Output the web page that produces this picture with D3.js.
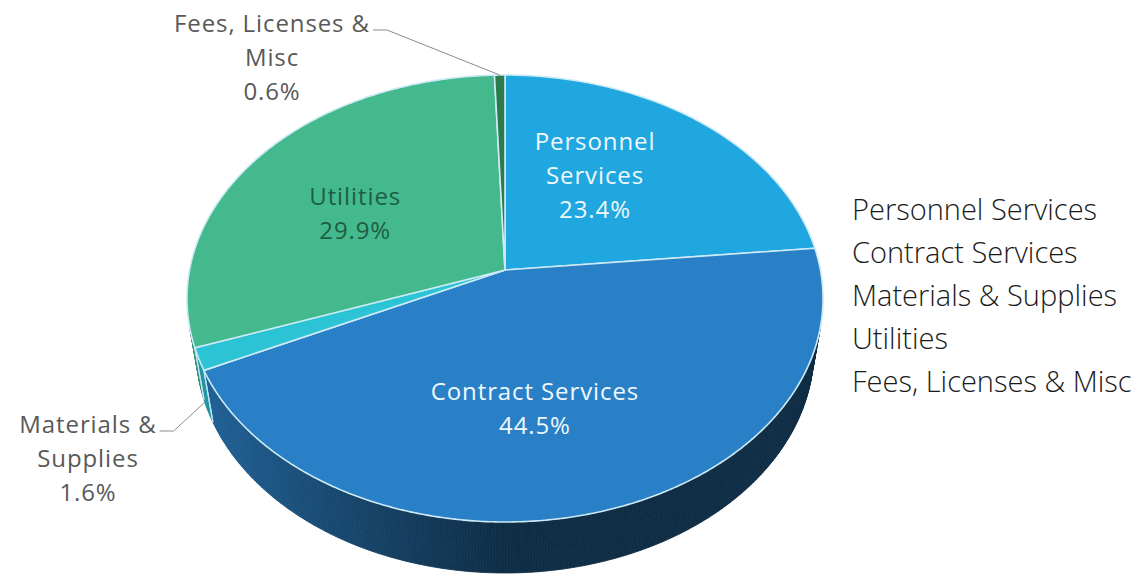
<!DOCTYPE html>
<html>
<head>
<meta charset="utf-8">
<script src="https://cdn.jsdelivr.net/npm/d3@7"></script>
<style>
  html, body { margin: 0; padding: 0; background: #ffffff; }
  svg { display: block; }
</style>
</head>
<body>
<svg id="chart" width="1141" height="576"></svg>
<script>
// Budget breakdown by expense category (share of total, %)
const categories = ["Personnel Services", "Contract Services", "Materials & Supplies", "Utilities", "Fees, Licenses & Misc"];
const shares = [23.4, 44.5, 1.6, 29.9, 0.6];
const sliceLabelLines = [["Personnel", "Services"], ["Contract Services"], ["Materials &", "Supplies"], ["Utilities"], ["Fees, Licenses &", "Misc"]];
const sliceColors = ["#20a7e0", "#2a80c6", "#2cc4d5", "#44b98e", "#2e7a4d"];

const svg = d3.select("#chart");

// Perspective view of a tilted disc (radius 1) with a thick rim
const view = { cx: 505, cy: 270, dist: 5.624, focal: 1774, sinElev: 0.697, depth: 0.236 };
const sa = view.sinElev, ca = Math.sqrt(1 - sa * sa);

function project(theta, r, w) {
  const u = r * Math.sin(theta), v = r * Math.cos(theta);
  const X = u, Y = -v * sa - w * ca, Z = view.dist + v * ca - w * sa;
  return [view.cx + view.focal * X / Z, view.cy + view.focal * Y / Z];
}
// true when the rim at this angle faces the camera
function rimFacing(theta) {
  const nX = Math.sin(theta), nY = -Math.cos(theta) * sa, nZ = Math.cos(theta) * ca;
  const v = Math.cos(theta), w = -view.depth / 2;
  const X = Math.sin(theta), Y = -v * sa - w * ca, Z = view.dist + v * ca - w * sa;
  return -(nX * X + nY * Y + nZ * Z) > 0;
}
function shade(color, theta) {
  const k = 0.35 + 0.45 * Math.max(0, -Math.sin(theta));
  const c = d3.rgb(color);
  return d3.rgb(c.r * k, c.g * k, c.b * k).formatHex();
}

const pie = d3.pie().sort(null).value(d => d);
const arcs = pie(shares);
const step = Math.PI / 360;

function samples(a0, a1) {
  const n = Math.max(2, Math.ceil((a1 - a0) / step));
  return d3.range(n + 1).map(i => a0 + (a1 - a0) * i / n);
}

// Rim (side wall) of every slice, drawn as thin shaded strips
const rimLayer = svg.append("g");
arcs.forEach((a, i) => {
  const ts = samples(a.startAngle, a.endAngle);
  for (let j = 0; j < ts.length - 1; j++) {
    const tm = (ts[j] + ts[j + 1]) / 2;
    if (!rimFacing(tm)) continue;
    const pts = [project(ts[j], 1, 0), project(ts[j + 1], 1, 0), project(ts[j + 1], 1, -view.depth), project(ts[j], 1, -view.depth)];
    const col = shade(sliceColors[i], tm);
    rimLayer.append("path")
      .attr("d", "M" + pts.map(p => p.join(",")).join("L") + "Z")
      .attr("fill", col).attr("stroke", col).attr("stroke-width", 0.8);
  }
});
// light edges where slices meet on the rim
arcs.forEach(a => {
  [a.startAngle, a.endAngle].forEach(t => {
    if (!rimFacing(t)) return;
    const p0 = project(t, 1, 0), p1 = project(t, 1, -view.depth);
    rimLayer.append("line").attr("x1", p0[0]).attr("y1", p0[1]).attr("x2", p1[0]).attr("y2", p1[1])
      .attr("stroke", "#bfe6f4").attr("stroke-width", 1.2);
  });
});

// Top faces
const faceLayer = svg.append("g");
arcs.forEach((a, i) => {
  const p = d3.path();
  const c = project(0, 0, 0);
  p.moveTo(c[0], c[1]);
  samples(a.startAngle, a.endAngle).forEach(t => { const q = project(t, 1, 0); p.lineTo(q[0], q[1]); });
  p.closePath();
  faceLayer.append("path").attr("d", p.toString())
    .attr("fill", sliceColors[i])
    .attr("stroke", "#cdeaf6").attr("stroke-width", 1.6).attr("stroke-linejoin", "round");
});

// Data labels
const labelFont = "'Open Sans', 'DejaVu Sans', sans-serif";
const lineH = 34;
const labelPlacement = [
  { inside: true, r: 0.55, dAngle: -8.8, fill: "#eef8fd" },
  { inside: true, r: 0.584, dAngle: 7, fill: "#eef8fd" },
  { inside: false, x: 88, y: 457, rimDepth: 0.8, fill: "#595959" },
  { inside: true, r: 0.562, dAngle: -5, fill: "#1d5e42" },
  { inside: false, x: 272, y: 56, rimDepth: 0, fill: "#595959" }
];
const labelLayer = svg.append("g").attr("font-family", labelFont).attr("font-size", 24)
  .attr("letter-spacing", 0.9).attr("text-anchor", "middle");
arcs.forEach((a, i) => {
  const pl = labelPlacement[i];
  const mid = (a.startAngle + a.endAngle) / 2;
  const lines = sliceLabelLines[i].concat([d3.format(".1f")(shares[i]) + "%"]);
  let cx, cy;
  if (pl.inside) {
    [cx, cy] = project(mid + pl.dAngle * Math.PI / 180, pl.r, 0);
  } else {
    cx = pl.x; cy = pl.y;
  }
  const g = labelLayer.append("g");
  const texts = lines.map((ln, k) => g.append("text")
    .attr("x", cx).attr("y", cy + (k - (lines.length - 1) / 2) * lineH)
    .attr("dominant-baseline", "central")
    .attr("fill", pl.fill).text(ln));
  if (!pl.inside) {
    const y0 = cy - (lines.length - 1) / 2 * lineH + 8;
    const x0 = cx + texts[0].node().getComputedTextLength() / 2 + 3;
    const end = project(mid, 1, -pl.rimDepth * view.depth);
    labelLayer.append("path")
      .attr("d", `M${x0},${y0}H${x0 + 14}L${end[0]},${end[1]}`)
      .attr("fill", "none").attr("stroke", "#8c8c8c").attr("stroke-width", 1);
  }
});

// Legend (text only)
const legendLayer = svg.append("g").attr("font-family", labelFont).attr("font-weight", 300).attr("font-size", 29);
categories.forEach((c, i) => {
  legendLayer.append("text").attr("x", 852).attr("y", 208 + i * 43)
    .attr("dominant-baseline", "central").attr("fill", "#1a1a1a").text(c);
});
</script>
</body>
</html>
